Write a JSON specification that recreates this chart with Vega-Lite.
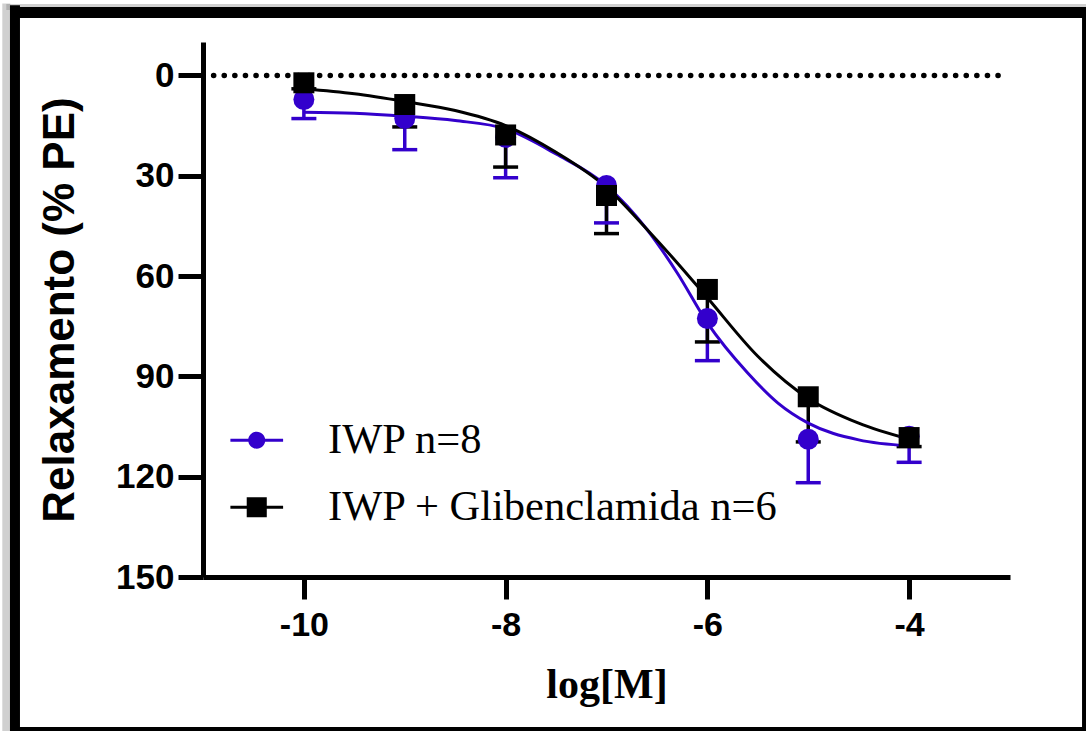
{
  "$schema": "https://vega.github.io/schema/vega-lite/v6.json",
  "autosize": {"type": "none"},
  "padding": {"left": 203, "top": 42, "right": 76, "bottom": 154},
  "width": 807,
  "height": 535,
  "background": "white",
  "config": {
    "view": {"stroke": null},
    "axis": {"grid": false, "domainColor": "black", "tickColor": "black", "labelColor": "black", "titleColor": "black"}
  },
  "datasets": {
    "one": [{"k": 1}],
    "points": [
      {"series": "IWP n=8", "x": -10, "mean": 7.2, "upper": 12.9},
      {"series": "IWP n=8", "x": -9, "mean": 12.9, "upper": 22.2},
      {"series": "IWP n=8", "x": -8, "mean": 18.5, "upper": 30.6},
      {"series": "IWP n=8", "x": -7, "mean": 32.9, "upper": 44.1},
      {"series": "IWP n=8", "x": -6, "mean": 72.7, "upper": 85.3},
      {"series": "IWP n=8", "x": -5, "mean": 108.8, "upper": 121.8},
      {"series": "IWP n=8", "x": -4, "mean": 107.9, "upper": 115.7},
      {"series": "IWP + Glibenclamida n=6", "x": -10, "mean": 2.2, "upper": 4},
      {"series": "IWP + Glibenclamida n=6", "x": -9, "mean": 8.7, "upper": 15.4},
      {"series": "IWP + Glibenclamida n=6", "x": -8, "mean": 17.8, "upper": 27.4},
      {"series": "IWP + Glibenclamida n=6", "x": -7, "mean": 35.9, "upper": 47.3},
      {"series": "IWP + Glibenclamida n=6", "x": -6, "mean": 64, "upper": 79.7},
      {"series": "IWP + Glibenclamida n=6", "x": -5, "mean": 96.1, "upper": 109.6},
      {"series": "IWP + Glibenclamida n=6", "x": -4, "mean": 108.3, "upper": 111}
    ],
    "curves": [
      {"series": "IWP n=8", "x": -10, "y": 11.0},
      {"series": "IWP n=8", "x": -9.5, "y": 11.3},
      {"series": "IWP n=8", "x": -9, "y": 12.2},
      {"series": "IWP n=8", "x": -8.5, "y": 13.5},
      {"series": "IWP n=8", "x": -8, "y": 16},
      {"series": "IWP n=8", "x": -7.5, "y": 23.5},
      {"series": "IWP n=8", "x": -7, "y": 33},
      {"series": "IWP n=8", "x": -6.6, "y": 46},
      {"series": "IWP n=8", "x": -6.3, "y": 59},
      {"series": "IWP n=8", "x": -6, "y": 74},
      {"series": "IWP n=8", "x": -5.6, "y": 89},
      {"series": "IWP n=8", "x": -5.3, "y": 98},
      {"series": "IWP n=8", "x": -5, "y": 104},
      {"series": "IWP n=8", "x": -4.5, "y": 109},
      {"series": "IWP n=8", "x": -4, "y": 110.8},
      {"series": "IWP + Glibenclamida n=6", "x": -10, "y": 4},
      {"series": "IWP + Glibenclamida n=6", "x": -9.5, "y": 5.5},
      {"series": "IWP + Glibenclamida n=6", "x": -9, "y": 7.8},
      {"series": "IWP + Glibenclamida n=6", "x": -8.5, "y": 10.5},
      {"series": "IWP + Glibenclamida n=6", "x": -8, "y": 15},
      {"series": "IWP + Glibenclamida n=6", "x": -7.5, "y": 23},
      {"series": "IWP + Glibenclamida n=6", "x": -7, "y": 33.5},
      {"series": "IWP + Glibenclamida n=6", "x": -6.6, "y": 46},
      {"series": "IWP + Glibenclamida n=6", "x": -6.3, "y": 56},
      {"series": "IWP + Glibenclamida n=6", "x": -6, "y": 66.5},
      {"series": "IWP + Glibenclamida n=6", "x": -5.5, "y": 84},
      {"series": "IWP + Glibenclamida n=6", "x": -5, "y": 96.6},
      {"series": "IWP + Glibenclamida n=6", "x": -4.5, "y": 104},
      {"series": "IWP + Glibenclamida n=6", "x": -4, "y": 108.8}
    ]
  },
  "resolve": {"scale": {"color": "independent", "shape": "independent"}},
  "layer": [
    {
      "data": {"name": "one"},
      "mark": {"type": "rule", "color": "#777777", "strokeWidth": 8, "strokeCap": "butt", "opacity": 0.35},
      "encoding": {
        "x": {"datum": -12.95, "type": "quantitative", "scale": {"domain": [-11, -3], "nice": false, "zero": false},
          "axis": {"values": [-10, -8, -6, -4], "labelExpr": "datum.value + ''", "domainWidth": 5, "tickWidth": 5, "tickSize": 22, "labelFont": "Liberation Sans", "labelFontWeight": "bold", "labelFontSize": 34, "labelPadding": 9, "title": "log[M]", "titleFont": "Liberation Serif", "titleFontWeight": "bold", "titleFontSize": 42, "titlePadding": 22}},
        "y": {"datum": -21.5, "type": "quantitative", "scale": {"domain": [-10, 150], "reverse": true, "nice": false, "zero": false},
          "axis": {"values": [0, 30, 60, 90, 120, 150], "domainWidth": 5, "tickWidth": 5, "tickSize": 25, "labelFont": "Liberation Sans", "labelFontWeight": "bold", "labelFontSize": 35, "labelPadding": 4, "title": "Relaxamento (% PE)", "titleFont": "Liberation Sans", "titleFontWeight": "bold", "titleFontSize": 44, "titlePadding": 33}},
        "y2": {"datum": 196.06}
      }
    },
    {
      "data": {"name": "one"},
      "mark": {"type": "rule", "color": "#777777", "strokeWidth": 6, "strokeCap": "butt", "opacity": 0.35},
      "encoding": {
        "y": {"datum": -20.5, "type": "quantitative"},
        "x": {"datum": -12.95, "type": "quantitative"},
        "x2": {"datum": -2.246}
      }
    },
    {
      "data": {"name": "one"},
      "mark": {"type": "rule", "color": "black", "strokeWidth": 10, "strokeCap": "butt"},
      "encoding": {
        "x": {"datum": -12.864, "type": "quantitative"},
        "y": {"datum": -21, "type": "quantitative"},
        "y2": {"datum": 196.06}
      }
    },
    {
      "data": {"name": "one"},
      "mark": {"type": "rule", "color": "black", "strokeWidth": 11, "strokeCap": "butt"},
      "encoding": {
        "y": {"datum": -18.8, "type": "quantitative"},
        "x": {"datum": -12.913, "type": "quantitative"},
        "x2": {"datum": -2.246}
      }
    },
    {
      "data": {"name": "one"},
      "mark": {"type": "rule", "color": "black", "strokeWidth": 4, "strokeCap": "butt"},
      "encoding": {
        "x": {"datum": -2.266, "type": "quantitative"},
        "y": {"datum": -18.67, "type": "quantitative"},
        "y2": {"datum": 196.06}
      }
    },
    {
      "data": {"name": "one"},
      "mark": {"type": "rule", "color": "black", "strokeWidth": 4, "strokeCap": "butt"},
      "encoding": {
        "y": {"datum": 195.46, "type": "quantitative"},
        "x": {"datum": -12.913, "type": "quantitative"},
        "x2": {"datum": -2.246}
      }
    },
    {
      "data": {"name": "one"},
      "mark": {"type": "rule", "color": "black", "strokeWidth": 5.5, "strokeCap": "round", "strokeDash": [0.1, 10.5]},
      "encoding": {
        "y": {"datum": 0, "type": "quantitative"},
        "x": {"datum": -11, "type": "quantitative"},
        "x2": {"datum": -3.05}
      }
    },
    {
      "data": {"name": "points"},
      "mark": {"type": "rule", "strokeWidth": 3.5},
      "encoding": {
        "x": {"field": "x", "type": "quantitative"},
        "y": {"field": "mean", "type": "quantitative"},
        "y2": {"field": "upper"},
        "color": {"field": "series", "type": "nominal", "scale": {"domain": ["IWP + Glibenclamida n=6", "IWP n=8"], "range": ["#000000", "#3300cc"]}, "legend": null}
      }
    },
    {
      "data": {"name": "points"},
      "mark": {"type": "tick", "orient": "horizontal", "size": 25, "thickness": 3.5, "opacity": 1},
      "encoding": {
        "x": {"field": "x", "type": "quantitative"},
        "y": {"field": "upper", "type": "quantitative"},
        "color": {"field": "series", "type": "nominal", "scale": {"domain": ["IWP + Glibenclamida n=6", "IWP n=8"], "range": ["#000000", "#3300cc"]}, "legend": null}
      }
    },
    {
      "data": {"name": "curves"},
      "mark": {"type": "line", "strokeWidth": 3, "interpolate": "monotone"},
      "encoding": {
        "x": {"field": "x", "type": "quantitative"},
        "y": {"field": "y", "type": "quantitative"},
        "color": {"field": "series", "type": "nominal", "scale": {"domain": ["IWP + Glibenclamida n=6", "IWP n=8"], "range": ["#000000", "#3300cc"]}, "legend": null}
      }
    },
    {
      "data": {"name": "points"},
      "mark": {"type": "point", "filled": true, "opacity": 1, "size": 441, "strokeWidth": 0},
      "encoding": {
        "x": {"field": "x", "type": "quantitative"},
        "y": {"field": "mean", "type": "quantitative"},
        "color": {"field": "series", "type": "nominal", "scale": {"domain": ["IWP + Glibenclamida n=6", "IWP n=8"], "range": ["#000000", "#3300cc"]}, "legend": null},
        "shape": {"field": "series", "type": "nominal", "scale": {"domain": ["IWP + Glibenclamida n=6", "IWP n=8"], "range": ["square", "circle"]}, "legend": null}
      }
    },
    {
      "data": {"name": "points"},
      "transform": [{"filter": "datum.x > 100"}],
      "mark": {"type": "point", "filled": true, "opacity": 1},
      "encoding": {
        "x": {"field": "x", "type": "quantitative"},
        "y": {"field": "mean", "type": "quantitative"},
        "color": {"field": "series", "type": "nominal",
          "scale": {"domain": ["IWP n=8", "IWP + Glibenclamida n=6"], "range": ["#3300cc", "#000000"]},
          "legend": {"orient": "none", "legendX": 32.5, "legendY": 377, "title": null, "padding": 0, "labelFont": "Liberation Serif", "labelFontSize": 42.5, "labelLimit": 800, "labelColor": "black", "symbolSize": 289, "labelOffset": 50, "rowPadding": 24, "symbolStrokeWidth": 0, "symbolOpacity": 1}},
        "shape": {"field": "series", "type": "nominal",
          "scale": {"domain": ["IWP n=8", "IWP + Glibenclamida n=6"], "range": ["M-3.1,-0.18H3.1V0.18H-3.1Z M1,0A1,1 0 1,1 -1,0A1,1 0 1,1 1,0Z", "M-3.1,-0.18H3.1V0.18H-3.1Z M-1.18,-1.18H1.18V1.18H-1.18Z"]},
          "legend": {"orient": "none", "legendX": 32.5, "legendY": 377, "title": null, "padding": 0, "labelFont": "Liberation Serif", "labelFontSize": 42.5, "labelLimit": 800, "labelColor": "black", "symbolSize": 289, "labelOffset": 50, "rowPadding": 24, "symbolStrokeWidth": 0, "symbolOpacity": 1}}
      }
    }
  ]
}
